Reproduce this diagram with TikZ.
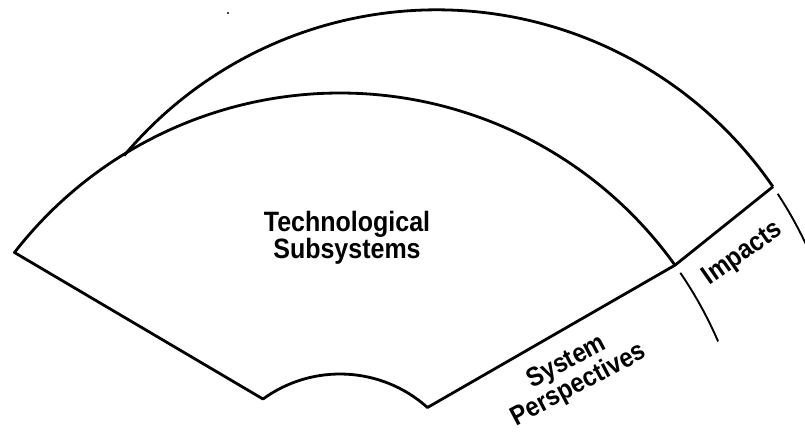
\documentclass[tikz,border=0pt]{standalone}
\usepackage{graphicx}
\usepackage{fontspec}
\setmainfont{Liberation Sans}
\usetikzlibrary{calc}
\newcommand{\tallline}[1]{\scalebox{1}[1.12]{#1}}

\begin{document}
\begin{tikzpicture}[x=1pt,y=-1pt,line width=2.8pt,line join=round,
  txt/.style={font=\fontsize{24}{24}\selectfont\bfseries,align=center,inner sep=0pt},
  ring/.style={line width=1.9pt}]
  \useasboundingbox (0,0) rectangle (805,431);
  \clip (0,0) rectangle (805,431);
  % --- centres of the arcs ---
  \coordinate (C) at (340,505);       % centre of the front fan
  \coordinate (D) at (436.7,417.8);   % centre of the back arc
  % --- corners ---
  \coordinate (L)  at ($(C)+(-142.2:412)$);
  \coordinate (R)  at ($(C)+(-35.6:412)$);
  \coordinate (NL) at ($(C)+(-126:131)$);
  \coordinate (NR) at ($(C)+(-48.1:131)$);
  \coordinate (A)  at ($(D)+(-34.5:408)$);   % right end of the back arc
  % front fan with the notch at the bottom
  \draw (R) arc[start angle=-35.6,end angle=-142.2,radius=412] -- (NL)
        arc[start angle=-126,end angle=-48.1,radius=131] -- (R) -- (A);
  % back arc, meeting the front one on the left
  \draw (A) arc[start angle=-34.5,end angle=-140,radius=408];
  % --- the ring of impacts ---
  \draw[ring] ($(C)+(-34.3:412)$) arc[start angle=-34.3,end angle=-23.4,radius=412];
  \draw[ring] ($(D)+(-33.3:408)$) arc[start angle=-33.3,end angle=-15,radius=408];
  \fill (228,13) circle[radius=1.2];
  % labels
  \node[txt,font=\fontsize{25}{24}\selectfont\bfseries] (tech) at (347,238)
       {\tallline{Technological}\\\tallline{Subsystems}};
  \node[txt,rotate=35] (imp) at (743,254) {\tallline{Impacts}};
  \node[txt,rotate=28] (sysp) at (573,374) {\tallline{System}\\\tallline{Perspectives}};
\end{tikzpicture}
\end{document}
